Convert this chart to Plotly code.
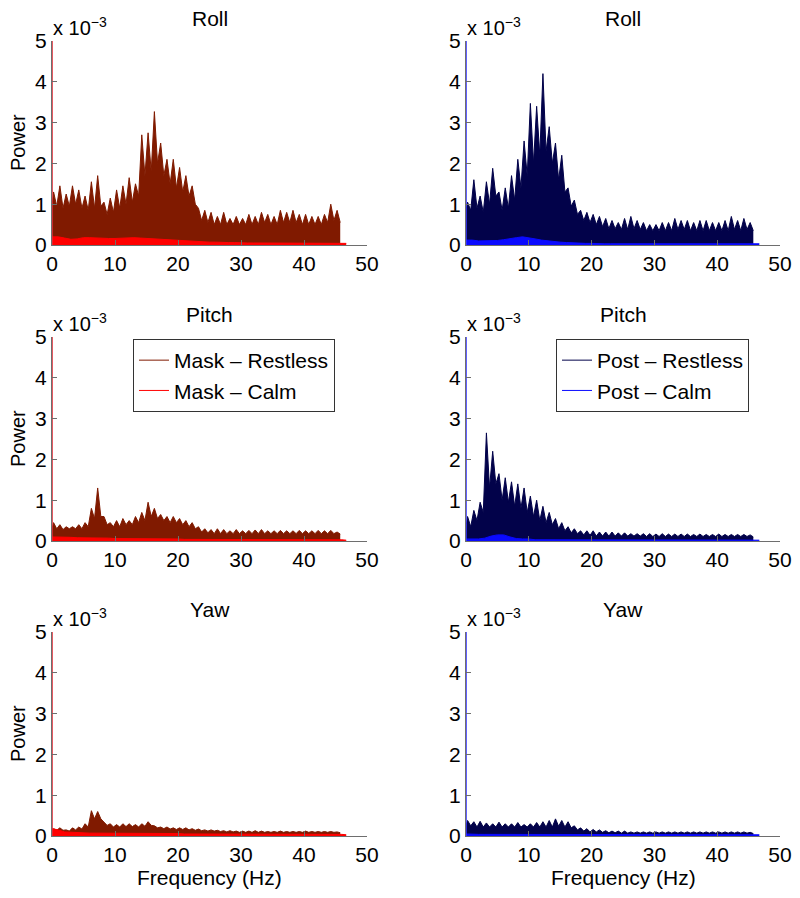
import plotly.graph_objects as go

# ---------------- data (power in units of 1e-3) ----------------
# Restless spectra: per 1-Hz bin (0..45 Hz) an upper spike level and a dense floor level
BINS = list(range(46))
# Calm spectra: smooth level per Hz, ending at 46.7 Hz
CALM_FREQ = list(range(47)) + [46.7]

MASK_ROLL_PEAK = [1.3, 1.45, 1.25, 1.45, 1.35, 1.2, 1.55, 1.7, 1.05, 1.15, 1.35, 1.45, 1.65, 1.5, 2.7, 2.75,
                  3.27, 2.5, 2.1, 2.1, 1.9, 1.7, 1.45, 0.9, 0.85, 0.8, 0.7, 0.8, 0.65, 0.7, 0.65, 0.75,
                  0.7, 0.8, 0.75, 0.7, 0.85, 0.8, 0.85, 0.75, 0.75, 0.7, 0.7, 0.75, 1.0, 0.85]
MASK_ROLL_FLOOR = [0.95, 0.9, 0.95, 1.0, 0.9, 0.85, 0.9, 0.95, 0.75, 0.8, 0.9, 1.0, 1.05, 1.2, 1.7, 1.8,
                   2.0, 1.7, 1.5, 1.4, 1.3, 1.2, 1.0, 0.6, 0.55, 0.5, 0.5, 0.5, 0.5, 0.5, 0.5, 0.5,
                   0.5, 0.55, 0.5, 0.5, 0.55, 0.55, 0.55, 0.5, 0.5, 0.5, 0.5, 0.55, 0.6, 0.55]
MASK_ROLL_CALM = [0.2, 0.2, 0.17, 0.14, 0.15, 0.18, 0.18, 0.17, 0.17, 0.16, 0.16, 0.17, 0.18, 0.18, 0.17, 0.16,
                  0.15, 0.14, 0.13, 0.12, 0.11, 0.1, 0.09, 0.08, 0.08, 0.07, 0.07, 0.06, 0.06, 0.06, 0.05, 0.05,
                  0.05, 0.05, 0.05, 0.05, 0.05, 0.05, 0.05, 0.05, 0.05, 0.05, 0.05, 0.05, 0.05, 0.05, 0.05, 0.04]

POST_ROLL_PEAK = [1.05, 1.6, 1.2, 1.55, 1.88, 1.3, 1.4, 1.7, 2.1, 2.55, 3.47, 3.4, 4.2, 2.9, 2.5, 2.2,
                  1.4, 1.1, 0.85, 0.8, 0.75, 0.7, 0.65, 0.6, 0.55, 0.65, 0.7, 0.6, 0.55, 0.5, 0.5, 0.55,
                  0.55, 0.65, 0.6, 0.6, 0.55, 0.6, 0.6, 0.55, 0.55, 0.6, 0.7, 0.6, 0.65, 0.55]
POST_ROLL_FLOOR = [0.85, 0.9, 0.8, 1.0, 1.2, 0.85, 0.9, 1.1, 1.4, 1.7, 2.0, 2.2, 2.3, 2.0, 1.6, 1.3,
                   0.95, 0.75, 0.6, 0.55, 0.5, 0.45, 0.4, 0.4, 0.38, 0.38, 0.4, 0.38, 0.35, 0.35, 0.35, 0.35,
                   0.35, 0.38, 0.38, 0.35, 0.35, 0.35, 0.35, 0.35, 0.35, 0.35, 0.38, 0.35, 0.38, 0.35]
POST_ROLL_CALM = [0.12, 0.12, 0.1, 0.1, 0.1, 0.11, 0.13, 0.16, 0.18, 0.2, 0.18, 0.15, 0.12, 0.1, 0.08, 0.07,
                  0.06, 0.05, 0.05, 0.04, 0.04, 0.03, 0.03, 0.03, 0.03, 0.03, 0.03, 0.03, 0.03, 0.03, 0.03, 0.03,
                  0.03, 0.03, 0.03, 0.03, 0.03, 0.03, 0.03, 0.03, 0.03, 0.03, 0.03, 0.03, 0.03, 0.03, 0.03, 0.03]

MASK_PITCH_PEAK = [0.45, 0.4, 0.35, 0.35, 0.4, 0.45, 0.8, 1.3, 0.6, 0.45, 0.5, 0.55, 0.5, 0.6, 0.7, 0.95,
                   0.8, 0.65, 0.6, 0.6, 0.55, 0.5, 0.45, 0.35, 0.3, 0.28, 0.3, 0.28, 0.25, 0.28, 0.25, 0.26,
                   0.27, 0.28, 0.25, 0.25, 0.26, 0.25, 0.25, 0.26, 0.25, 0.25, 0.26, 0.25, 0.26, 0.22]
MASK_PITCH_FLOOR = [0.3, 0.28, 0.3, 0.3, 0.3, 0.35, 0.55, 0.6, 0.4, 0.35, 0.35, 0.4, 0.4, 0.45, 0.5, 0.6,
                    0.55, 0.5, 0.45, 0.45, 0.4, 0.35, 0.3, 0.22, 0.2, 0.18, 0.18, 0.18, 0.18, 0.18, 0.18, 0.18,
                    0.18, 0.18, 0.18, 0.18, 0.18, 0.18, 0.18, 0.18, 0.18, 0.18, 0.18, 0.18, 0.18, 0.17]
MASK_PITCH_CALM = [0.1, 0.1, 0.09, 0.09, 0.08, 0.08, 0.08, 0.08, 0.07, 0.07, 0.06, 0.06, 0.06, 0.06, 0.05, 0.05,
                   0.05, 0.05, 0.05, 0.05, 0.05, 0.04, 0.04, 0.04, 0.04, 0.04, 0.04, 0.04, 0.04, 0.04, 0.04, 0.03,
                   0.03, 0.03, 0.03, 0.03, 0.03, 0.03, 0.03, 0.03, 0.03, 0.03, 0.03, 0.03, 0.03, 0.03, 0.03, 0.02]

POST_PITCH_PEAK = [0.6, 0.75, 0.95, 2.65, 2.2, 1.65, 1.55, 1.45, 1.4, 1.3, 1.1, 1.0, 0.85, 0.7, 0.55, 0.45,
                   0.35, 0.3, 0.25, 0.25, 0.25, 0.22, 0.22, 0.22, 0.2, 0.2, 0.18, 0.18, 0.18, 0.18, 0.17, 0.18,
                   0.17, 0.17, 0.17, 0.17, 0.16, 0.17, 0.16, 0.16, 0.17, 0.16, 0.16, 0.16, 0.16, 0.15]
POST_PITCH_FLOOR = [0.35, 0.5, 0.7, 1.3, 1.4, 1.0, 0.95, 0.85, 0.8, 0.7, 0.6, 0.5, 0.45, 0.4, 0.3, 0.25,
                    0.2, 0.18, 0.15, 0.14, 0.12, 0.12, 0.12, 0.12, 0.12, 0.12, 0.12, 0.12, 0.11, 0.11, 0.11, 0.11,
                    0.11, 0.11, 0.11, 0.11, 0.11, 0.11, 0.11, 0.11, 0.11, 0.11, 0.11, 0.11, 0.11, 0.1]
POST_PITCH_CALM = [0.05, 0.05, 0.05, 0.07, 0.12, 0.15, 0.15, 0.1, 0.06, 0.05, 0.05, 0.03, 0.03, 0.03, 0.03, 0.03,
                   0.03, 0.03, 0.03, 0.03, 0.03, 0.03, 0.03, 0.03, 0.03, 0.03, 0.03, 0.03, 0.03, 0.03, 0.03, 0.03,
                   0.03, 0.03, 0.03, 0.03, 0.03, 0.03, 0.03, 0.03, 0.03, 0.03, 0.03, 0.03, 0.03, 0.03, 0.03, 0.02]

MASK_YAW_PEAK = [0.18, 0.2, 0.15, 0.2, 0.22, 0.3, 0.62, 0.6, 0.35, 0.3, 0.28, 0.3, 0.3, 0.28, 0.3, 0.35,
                 0.25, 0.22, 0.22, 0.2, 0.2, 0.2, 0.18, 0.17, 0.15, 0.15, 0.14, 0.13, 0.13, 0.12, 0.12, 0.12,
                 0.13, 0.12, 0.11, 0.11, 0.12, 0.11, 0.11, 0.11, 0.12, 0.11, 0.11, 0.11, 0.11, 0.1]
MASK_YAW_FLOOR = [0.14, 0.14, 0.12, 0.15, 0.17, 0.22, 0.42, 0.42, 0.26, 0.22, 0.22, 0.23, 0.23, 0.22, 0.24, 0.26,
                  0.2, 0.18, 0.17, 0.16, 0.16, 0.15, 0.14, 0.13, 0.12, 0.12, 0.11, 0.1, 0.1, 0.09, 0.09, 0.09,
                  0.09, 0.09, 0.09, 0.09, 0.09, 0.09, 0.09, 0.09, 0.09, 0.09, 0.09, 0.09, 0.09, 0.08]
MASK_YAW_CALM = [0.18, 0.15, 0.1, 0.09, 0.08, 0.08, 0.07, 0.07, 0.07, 0.06, 0.06, 0.06, 0.06, 0.06, 0.06, 0.06,
                 0.06, 0.06, 0.06, 0.06, 0.06, 0.05, 0.05, 0.05, 0.05, 0.05, 0.05, 0.05, 0.05, 0.05, 0.05, 0.04,
                 0.04, 0.04, 0.04, 0.04, 0.04, 0.04, 0.04, 0.04, 0.04, 0.04, 0.04, 0.04, 0.04, 0.04, 0.04, 0.03]

POST_YAW_PEAK = [0.38, 0.35, 0.36, 0.32, 0.3, 0.34, 0.3, 0.3, 0.33, 0.28, 0.3, 0.33, 0.35, 0.38, 0.42, 0.38,
                 0.35, 0.25, 0.2, 0.18, 0.16, 0.15, 0.13, 0.12, 0.12, 0.12, 0.1, 0.1, 0.1, 0.1, 0.1, 0.1,
                 0.1, 0.1, 0.1, 0.1, 0.1, 0.1, 0.1, 0.1, 0.1, 0.1, 0.1, 0.1, 0.1, 0.09]
POST_YAW_FLOOR = [0.25, 0.22, 0.22, 0.22, 0.22, 0.22, 0.22, 0.22, 0.22, 0.22, 0.22, 0.22, 0.22, 0.22, 0.24, 0.22,
                  0.2, 0.15, 0.12, 0.1, 0.1, 0.09, 0.08, 0.08, 0.07, 0.07, 0.07, 0.07, 0.07, 0.07, 0.07, 0.07,
                  0.07, 0.07, 0.07, 0.07, 0.07, 0.07, 0.07, 0.07, 0.07, 0.07, 0.07, 0.07, 0.07, 0.06]
POST_YAW_CALM = [0.05, 0.04, 0.04, 0.04, 0.04, 0.04, 0.04, 0.04, 0.04, 0.04, 0.04, 0.04, 0.04, 0.04, 0.04, 0.04,
                 0.04, 0.04, 0.04, 0.04, 0.04, 0.04, 0.04, 0.04, 0.04, 0.04, 0.04, 0.04, 0.04, 0.04, 0.04, 0.04,
                 0.04, 0.04, 0.04, 0.04, 0.04, 0.04, 0.04, 0.04, 0.04, 0.04, 0.04, 0.04, 0.04, 0.04, 0.04, 0.03]

DC_POWER = 5.5  # 0-Hz component (off scale)

PANEL_TITLES = ["Roll", "Roll", "Pitch", "Pitch", "Yaw", "Yaw"]
SERIES_NAMES = {"mask": ["Mask \u2013 Restless", "Mask \u2013 Calm"],
                "post": ["Post \u2013 Restless", "Post \u2013 Calm"]}
PANELS = [
    ("mask", MASK_ROLL_PEAK, MASK_ROLL_FLOOR, MASK_ROLL_CALM),
    ("post", POST_ROLL_PEAK, POST_ROLL_FLOOR, POST_ROLL_CALM),
    ("mask", MASK_PITCH_PEAK, MASK_PITCH_FLOOR, MASK_PITCH_CALM),
    ("post", POST_PITCH_PEAK, POST_PITCH_FLOOR, POST_PITCH_CALM),
    ("mask", MASK_YAW_PEAK, MASK_YAW_FLOOR, MASK_YAW_CALM),
    ("post", POST_YAW_PEAK, POST_YAW_FLOOR, POST_YAW_CALM),
]
X_TICKS = [0, 10, 20, 30, 40, 50]
Y_TICKS = [0, 1, 2, 3, 4, 5]

# ---------------- styling / layout ----------------
COLORS = {"mask": ("#801a00", "#ff0000"), "post": ("#02024a", "#0a0aff")}
SPIKE = {"mask": "#e0303a", "post": "#3a3aff"}
FONT = "Liberation Sans, Arial, Helvetica, sans-serif"

# The page body has an 8px margin, so the figure is 16px smaller than the window
PAGE_OFF = 8
FIG_W, FIG_H = 800 - 2 * PAGE_OFF, 898 - 2 * PAGE_OFF


def xp(px):
    return (px - PAGE_OFF) / FIG_W


def yp(py):
    return 1 - (py - PAGE_OFF) / FIG_H


XDOM = [(xp(52), xp(367)), (xp(466), xp(780))]
YDOM = [(yp(245), yp(41)), (yp(541), yp(337)), (yp(836), yp(632))]

fig = go.Figure()
layout = {}
annotations = []

for k, (grp, peak, floor, calm) in enumerate(PANELS):
    row, col = divmod(k, 2)
    n = k + 1
    xa = "x" if n == 1 else f"x{n}"
    ya = "y" if n == 1 else f"y{n}"
    c_rest, c_calm = COLORS[grp]

    xs = [0]
    ys = [floor[0]]
    for b, p, f in zip(BINS, peak, floor):
        xs += [b + 0.25, b + 0.75]
        ys += [p, f]
    fig.add_trace(go.Scatter(x=xs, y=ys, mode="lines", line=dict(color=c_rest, width=1),
                             fill="tozeroy", fillcolor=c_rest, showlegend=False,
                             xaxis=xa, yaxis=ya, hoverinfo="skip"))
    fig.add_trace(go.Scatter(x=CALM_FREQ, y=calm, mode="lines", line=dict(color=c_calm, width=1),
                             fill="tozeroy", fillcolor=c_calm, showlegend=False,
                             xaxis=xa, yaxis=ya, hoverinfo="skip"))
    fig.add_trace(go.Scatter(x=[0, 0], y=[0, DC_POWER], mode="lines",
                             line=dict(color=SPIKE[grp], width=1.6),
                             showlegend=False, xaxis=xa, yaxis=ya, hoverinfo="skip"))

    if row == 1:
        leg = "legend" if col == 0 else "legend2"
        for name, c in zip(SERIES_NAMES[grp], COLORS[grp]):
            fig.add_trace(go.Scatter(x=[None], y=[None], mode="lines", name=name,
                                     line=dict(color=c, width=1), legend=leg,
                                     xaxis=xa, yaxis=ya))

    axis_common = dict(showgrid=False, zeroline=False, showline=True, linecolor="#6e6e6e",
                       linewidth=1, ticks="inside", ticklen=5, tickcolor="#6e6e6e",
                       tickfont=dict(size=21, color="black", family=FONT), mirror=False,
                       automargin=False)
    layout["xaxis" if n == 1 else f"xaxis{n}"] = dict(
        domain=list(XDOM[col]), anchor=ya, range=[0, 50], tickvals=X_TICKS, **axis_common)
    layout["yaxis" if n == 1 else f"yaxis{n}"] = dict(
        domain=list(YDOM[row]), anchor=xa, range=[0, 5], tickvals=Y_TICKS, **axis_common)

    xmid = (XDOM[col][0] + XDOM[col][1]) / 2
    annotations.append(dict(text=PANEL_TITLES[k], x=xmid, y=YDOM[row][1], xref="paper", yref="paper",
                            xanchor="center", yanchor="middle", yshift=23, showarrow=False,
                            font=dict(size=21, family=FONT, color="black")))
    annotations.append(dict(text="x 10<sup>\u22123</sup>", x=XDOM[col][0], y=YDOM[row][1],
                            xref="paper", yref="paper", xanchor="left", yanchor="bottom",
                            xshift=-1, yshift=0, showarrow=False,
                            font=dict(size=20, family=FONT, color="black")))
    if col == 0:
        annotations.append(dict(text="Power", x=xp(18), y=(YDOM[row][0] + YDOM[row][1]) / 2,
                                xref="paper", yref="paper", xanchor="center", yanchor="middle",
                                textangle=-90, showarrow=False,
                                font=dict(size=20, family=FONT, color="black")))
    if row == 2:
        annotations.append(dict(text="Frequency (Hz)", x=xmid, y=yp(877), xref="paper", yref="paper",
                                xanchor="center", yanchor="middle", showarrow=False,
                                font=dict(size=21, family=FONT, color="black")))

legend_common = dict(xanchor="left", yanchor="top", bgcolor="white", bordercolor="#333333",
                     borderwidth=1, font=dict(size=21, family=FONT, color="black"),
                     tracegroupgap=0)
layout["legend"] = dict(x=xp(133), y=yp(339), **legend_common)
layout["legend2"] = dict(x=xp(556), y=yp(339), **legend_common)

fig.update_layout(width=FIG_W, height=FIG_H, margin=dict(l=0, r=0, t=0, b=0, autoexpand=False),
                  paper_bgcolor="white", plot_bgcolor="white",
                  font=dict(family=FONT, color="black"),
                  annotations=annotations, **layout)

fig.write_html("out.html")
